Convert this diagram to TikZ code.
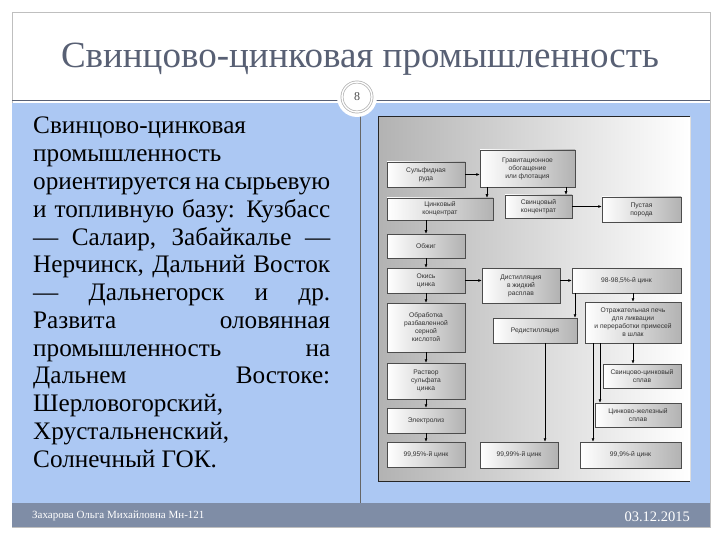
\documentclass[tikz,border=0pt]{standalone}
\usepackage{fontspec}
\setmainfont{Liberation Serif}
\newfontfamily\dsf{Liberation Sans}
\usetikzlibrary{arrows.meta}
\definecolor{slideblue}{RGB}{172,200,243}
\definecolor{footbar}{RGB}{127,141,166}
\definecolor{titlecol}{RGB}{88,96,116}
\begin{document}
\begin{tikzpicture}[x=1pt,y=-1pt,
  bodyline/.style={anchor=base west, inner sep=0pt, font=\fontsize{25.2}{28}\selectfont, text=black},
  dbox/.style={draw=black!70, line width=0.5pt, left color=white, right color=gray!60,
    font=\dsf\fontsize{6.7}{8}\selectfont, text=black!80, align=center, inner sep=1pt},
  arr/.style={-{Latex[length=3.5pt,width=3pt]}, line width=0.6pt, black}]
\useasboundingbox (0,0) rectangle (720,540);
\fill[white] (0,0) rectangle (720,540);
% slide frame
\draw[gray!50, line width=0.6pt] (12,12) rectangle (710,527);
\fill[slideblue] (12,103) rectangle (710,503);
\fill[footbar] (12,503) rectangle (710,527);
\draw[titlecol, line width=0.9pt] (12,100) -- (710,100);
\draw[black!60, line width=0.7pt] (360,103) -- (360,503);
% title
\node[font=\fontsize{37}{42}\selectfont, text=titlecol, anchor=base] (title) at (360,68) {Свинцово-цинковая промышленность};
% page number
\fill[white] (357,97) circle (20);
\node[circle, draw=gray!65, double=white, double distance=1.4pt, line width=0.7pt, fill=white,
  minimum size=30pt, inner sep=0pt, font=\fontsize{12}{14}\selectfont, text=black!70] (pnum) at (357,97) {8};
% body text
\node[bodyline] (l1) at (33,134) {Свинцово-цинковая};
\node[bodyline] (l2) at (33,161.75) {промышленность};
\node[bodyline] (l3) at (33,189.5) {\makebox[297pt][s]{ориентируется на сырьевую}};
\node[bodyline] (l4) at (33,217.25) {\makebox[297pt][s]{и топливную базу: Кузбасс}};
\node[bodyline] (l5) at (33,245) {\makebox[297pt][s]{— Салаир, Забайкалье —}};
\node[bodyline] (l6) at (33,272.75) {\makebox[297pt][s]{Нерчинск, Дальний Восток}};
\node[bodyline] (l7) at (33,300.5) {\makebox[297pt][s]{— Дальнегорск и др.}};
\node[bodyline] (l8) at (33,328.25) {\makebox[297pt][s]{Развита оловянная}};
\node[bodyline] (l9) at (33,356) {\makebox[297pt][s]{промышленность на}};
\node[bodyline] (l10) at (33,383.75) {\makebox[297pt][s]{Дальнем Востоке:}};
\node[bodyline] (l11) at (33,411.5) {Шерловогорский,};
\node[bodyline] (l12) at (33,439.25) {Хрустальненский,};
\node[bodyline] (l13) at (33,467) {Солнечный ГОК.};
% footer
\node[anchor=base west, inner sep=0pt, font=\fontsize{11}{13}\selectfont, text=white] (foot) at (32,518) {Захарова Ольга Михайловна Мн-121};
\node[anchor=base east, inner sep=0pt, font=\fontsize{14.5}{16}\selectfont, text=white] (date) at (690,521) {03.12.2015};
% diagram background
\shade[left color=gray!60, right color=white] (378,117) rectangle (690,481);
\draw[black!85, line width=1pt] (690,117) -- (378,117) -- (378,481) -- (690,481);
\draw[gray!25, line width=0.6pt] (690,117) -- (690,481);
% boxes
\node[dbox, minimum width=78pt, minimum height=25pt] (sulf) at (426,174.5) {Сульфидная\\руда};
\node[dbox, minimum width=95pt, minimum height=37pt] (grav) at (527.5,168.5) {Гравитационное\\обогащение\\или флотация};
\node[dbox, minimum width=106pt, minimum height=22pt] (zinkc) at (440,209) {Цинковый\\концентрат};
\node[dbox, minimum width=67pt, minimum height=23pt] (svc) at (538.5,206.5) {Свинцовый\\концентрат};
\node[dbox, minimum width=79pt, minimum height=25pt] (pust) at (641.5,209.5) {Пустая\\порода};
\node[dbox, minimum width=78pt, minimum height=24pt] (obzh) at (426,246) {Обжиг};
\node[dbox, minimum width=78pt, minimum height=25pt] (okis) at (426,280.5) {Окись\\цинка};
\node[dbox, minimum width=78pt, minimum height=35pt] (dist) at (521,285.5) {Дистилляция\\в жидкий\\расплав};
\node[dbox, minimum width=109pt, minimum height=25pt] (z985) at (626.5,280.5) {98-98,5\%-й цинк};
\node[dbox, minimum width=78pt, minimum height=49pt] (obr) at (426,327.5) {Обработка\\разбавленной\\серной\\кислотой};
\node[dbox, minimum width=84pt, minimum height=25pt] (redist) at (535,330.5) {Редистилляция};
\node[dbox, minimum width=96pt, minimum height=41pt] (otr) at (633,322.5) {Отражательная печь\\для ликвации\\и переработки примесей\\в шлак};
\node[dbox, minimum width=78pt, minimum height=36pt] (rast) at (426,381) {Раствор\\сульфата\\цинка};
\node[dbox, minimum width=78pt, minimum height=24pt] (scs) at (642,376) {Свинцово-цинковый\\сплав};
\node[dbox, minimum width=78pt, minimum height=25pt] (elek) at (426,420.5) {Электролиз};
\node[dbox, minimum width=86pt, minimum height=24pt] (zjs) at (638,415) {Цинково-железный\\сплав};
\node[dbox, minimum width=78pt, minimum height=25pt] (z9995) at (426,454.5) {99,95\%-й цинк};
\node[dbox, minimum width=78pt, minimum height=26pt] (z9999) at (519,455) {99,99\%-й цинк};
\node[dbox, minimum width=101pt, minimum height=26pt] (z999) at (630.5,455) {99,9\%-й цинк};
% helper x positions
\coordinate (xa) at (426,0);
\coordinate (xb) at (487,0);
\coordinate (xc) at (566,0);
\coordinate (xd) at (575,0);
\coordinate (xe) at (545,0);
\coordinate (xf) at (593,0);
\coordinate (xg) at (600,0);
\coordinate (xh) at (633,0);
% connectors
\draw[arr] (sulf.east) -- (grav.west |- sulf.east);
\draw[arr] (grav.south -| xb) -- (zinkc.north -| xb);
\draw[arr] (grav.south -| xc) -- (svc.north -| xc);
\draw[arr] (svc.east) -- (pust.west |- svc.east);
\draw[arr] (zinkc.south -| xa) -- (obzh.north);
\draw[arr] (obzh) -- (okis);
\draw[arr] (okis.east) -- (dist.west |- okis.east);
\draw[arr] (okis) -- (obr);
\draw[arr] (obr) -- (rast);
\draw[arr] (rast) -- (elek);
\draw[arr] (elek) -- (z9995);
\draw[arr] (dist.east |- z985.west) -- (z985.west);
\draw[arr] (z985.south -| xd) -- (redist.north -| xd);
\draw[arr] (z985.south -| xh) -- (otr.north -| xh);
\draw[arr] (redist.south -| xe) -- (z9999.north -| xe);
\draw[arr] (otr.south -| xh) -- (scs.north -| xh);
\draw[arr] (otr.south -| xg) -- (zjs.north -| xg);
\draw[arr] (otr.south -| xf) -- (z999.north -| xf);
\end{tikzpicture}
\end{document}
